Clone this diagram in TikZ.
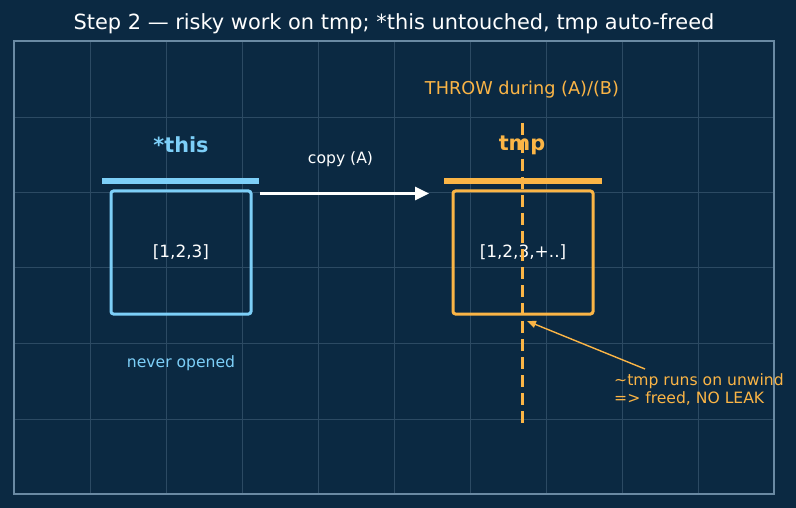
\documentclass[tikz,border=0pt]{standalone}
\usepackage{fontspec}
\setmainfont{DejaVu Sans}
\usetikzlibrary{arrows.meta,calc,positioning}
\definecolor{bgnavy}{HTML}{0B2942}
\definecolor{framegray}{HTML}{6A8AA3}
\definecolor{gridgray}{HTML}{2C4A63}
\definecolor{skyblue}{HTML}{7DCFF8}
\definecolor{amber}{HTML}{FBB546}
\tikzset{
  every picture/.style={x=1pt,y=-1pt},
  membox/.style={draw,line width=3pt,outer sep=0pt,rounded corners=2.5pt,minimum width=140pt,minimum height=123pt,text=white,font=\fontsize{16.9}{20}\selectfont},
  objlabel/.style={font=\bfseries\fontsize{20.8}{24}\selectfont},
  smalltext/.style={font=\fontsize{15.6}{18.2}\selectfont},
}

\begin{document}
\begin{tikzpicture}
    \fill [bgnavy] (0,0) rectangle (796,508);
    \useasboundingbox (0,0) rectangle (796,508);
    % grid and frame
    \foreach \gx in {90,166,...,698} \draw [gridgray,line width=0.8pt] (\gx,42) -- (\gx,493);
    \foreach \gy in {117,192.3,267.6,343,419} \draw [gridgray,line width=0.8pt] (15,\gy) -- (773,\gy);
    \draw [framegray,line width=1.8pt] (14,41) rectangle (774,494);
    \node [text=white,font=\fontsize{20.9}{24}\selectfont] (title) at (394,24) {Step 2 — risky work on tmp; *this untouched, tmp auto-freed};
    % *this
    \node [membox,draw=skyblue] (thisbox) at (181,252.5) {[1,2,3]};
    \node [objlabel,text=skyblue] (thislabel) at (181,145) {*this};
    \draw [skyblue,line width=6pt] ($(thisbox.north west)+(-9,-10)$) -- ($(thisbox.north east)+(8,-10)$);
    \node [smalltext,text=skyblue] (thisnote) at (181,363) {never opened};
    % tmp
    \node [membox,draw=amber] (tmpbox) at (523,252.5) {[1,2,3,+..]};
    \node [objlabel,text=amber] (tmplabel) at (522,145) {tmp};
    \draw [amber,line width=6pt] ($(tmpbox.north west)+(-9,-10)$) -- ($(tmpbox.north east)+(9,-10)$);
    \node [text=amber,font=\fontsize{17.7}{20}\selectfont] (throw) at (522,90) {THROW during (A)/(B)};
    \draw [amber,line width=3pt,dash pattern=on 12pt off 6pt] (522,123) coordinate (cut top) -- (522,426) coordinate (cut bottom);
    % copy arrow
    \draw [-{Triangle[length=14pt,width=13pt]},white,line width=3pt] ($(thisbox.north east)+(9,2.5)$) -- node [smalltext,above=22pt,xshift=-4pt,text=white] (copylabel) {copy (A)} ($(tmpbox.north west)+(-24,2.5)$);
    % unwind note
    \node [smalltext,text=amber,anchor=north west,align=left,inner sep=0pt] (unwind) at (614,373) {\textasciitilde tmp runs on unwind\\=> freed, NO LEAK};
    \coordinate (hit) at ($(tmpbox.south west)+(74,7)$);
    \draw [-{Triangle[length=9pt,width=7pt]},amber,line width=1.4pt] ($(unwind.north west)+(31,-4)$) -- (hit);
\end{tikzpicture}
\end{document}
